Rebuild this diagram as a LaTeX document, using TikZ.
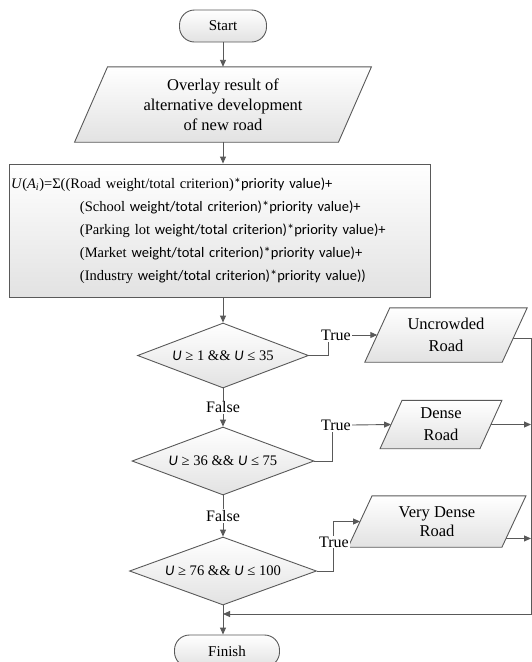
\documentclass[tikz,border=0pt]{standalone}
\usepackage{fontspec}
\setmainfont{Liberation Serif}
\newfontfamily\calib{Carlito}
\usetikzlibrary{shapes.geometric,arrows.meta,backgrounds,calc}
\definecolor{lc}{HTML}{595959}
\definecolor{gf}{HTML}{E2E2E2}
\newcommand{\UU}{{\calib\itshape U}}
\newcommand{\paral}[2]{%
  \begin{scope}[on background layer]
    \draw[ln, gshade] ([xshift=#2]#1.north west) -- ([xshift=#2]#1.north east)
      -- ([xshift=-#2]#1.south east) -- ([xshift=-#2]#1.south west) -- cycle;
  \end{scope}}
\tikzset{
  every node/.style={font=\fontsize{15}{20}\selectfont},
  ln/.style={draw=lc, line width=0.9pt},
  arr/.style={ln, -{Triangle[length=7pt,width=6pt]}},
  gshade/.style={top color=white, bottom color=gf},
  term/.style={ln, gshade, rounded corners=15pt, minimum height=32pt, inner sep=0pt},
  dec/.style={diamond, ln, gshade, aspect=2.6, inner sep=0pt, font=\fontsize{14.6}{18}\selectfont},
  ptext/.style={inner sep=0pt, align=center},
  lbl/.style={fill=white, inner sep=1pt, font=\fontsize{16}{18}\selectfont},
}
\begin{document}
\begin{tikzpicture}[x=1pt, y=-1pt]
\useasboundingbox (0,0) rectangle (532,662);

% terminals
\node[term, minimum width=87pt] (start) at (223,26) {Start};
\node[term, minimum width=105pt] (finish) at (227,651) {Finish};

% input parallelogram
\node[ptext, minimum width=263.5pt, minimum height=75pt, font=\fontsize{16.5}{20}\selectfont] (ov) at (223,104.5)
  {Overlay result of\\alternative development\\of new road};
\paral{ov}{16.5pt}

% process box
\node[ln, gshade, text width=417pt, inner xsep=2pt, inner ysep=0pt, minimum height=133pt,
      align=left, font=\fontsize{14.5}{23}\selectfont] (box) at (219.5,230.5)
  {\textit{U}(\textit{A\textsubscript{i}})=Σ((Road weight/total criterion){\calib *priority value)+}\\
   \hspace*{69pt}(School{\calib\ weight/total criterion)*priority value)+}\\
   \hspace*{69pt}(Parking lot{\calib\ weight/total criterion)*priority value)+}\\
   \hspace*{69pt}(Market{\calib\ weight/total criterion)*priority value)+}\\
   \hspace*{69pt}(Industry{\calib\ weight/total criterion)*priority value))}};

% decisions
\node[dec, minimum width=171pt, minimum height=65pt] (d1) at (223,355.5) {\UU{} ≥ 1 \&\& \UU{} ≤ 35};
\node[dec, minimum width=182pt, minimum height=68pt] (d2) at (223,461) {\UU{} ≥ 36 \&\& \UU{} ≤ 75};
\node[dec, minimum width=187pt, minimum height=68pt] (d3) at (223,571) {\UU{} ≥ 76 \&\& \UU{} ≤ 100};

% outputs
\node[ptext, minimum width=137pt, minimum height=54pt, font=\fontsize{16.5}{22}\selectfont] (u1) at (446,335) {Uncrowded\\Road};
\paral{u1}{12.5pt}
\node[ptext, minimum width=99.5pt, minimum height=48pt, font=\fontsize{16.5}{22}\selectfont] (u2) at (441,424.5) {Dense\\Road};
\paral{u2}{11pt}
\node[ptext, minimum width=153.5pt, minimum height=51pt, font=\fontsize{16.5}{19.5}\selectfont] (u3) at (437,521.5) {Very Dense\\Road};
\paral{u3}{12pt}

% labels
\node[lbl] (t1) at (336,335) {True};
\node[lbl] (t2) at (336,425) {True};

\coordinate (m) at (223,614);
\coordinate (rr) at (531,614);

% main flow
\draw[arr] (start.south) -- (ov.north);
\draw[arr] (ov.south) -- (ov.south |- box.north);
\draw[arr] (box.south -| d1.north) -- (d1.north);
\draw[arr] (d1.south) -- node[lbl] (f1) {False} (d2.north);
\draw[arr] (d2.south) -- node[lbl] (f2) {False} (d3.north);
\draw[arr] (d3.south) -- (d3.south |- finish.north);

% true branches
\draw[ln] (d1.east) -| ([xshift=-8pt]t1.south);
\draw[arr] (t1.east) -- (u1.west);
\draw[ln] (d2.east) -| ([xshift=-4pt]t2.south);
\draw[arr] (t2.east) -- (u2.west);
\draw[arr] (d3.east) -| ([xshift=-27pt]u3.west) -- (u3.west);
\node[lbl] (t3) at (334,542) {True};

% right collector
\coordinate (r1) at ($([xshift=12.5pt]u1.north east)!0.57!([xshift=-12.5pt]u1.south east)$);
\coordinate (r3) at ($([xshift=12pt]u3.north east)!0.83!([xshift=-12pt]u3.south east)$);
\draw[arr] (r1) -- (r1 -| rr) -- (rr) -- (m);
\draw[arr] (u2.east) -- (u2.east -| rr);
\draw[arr] (r3) -- (r3 -| rr);
\end{tikzpicture}
\end{document}
